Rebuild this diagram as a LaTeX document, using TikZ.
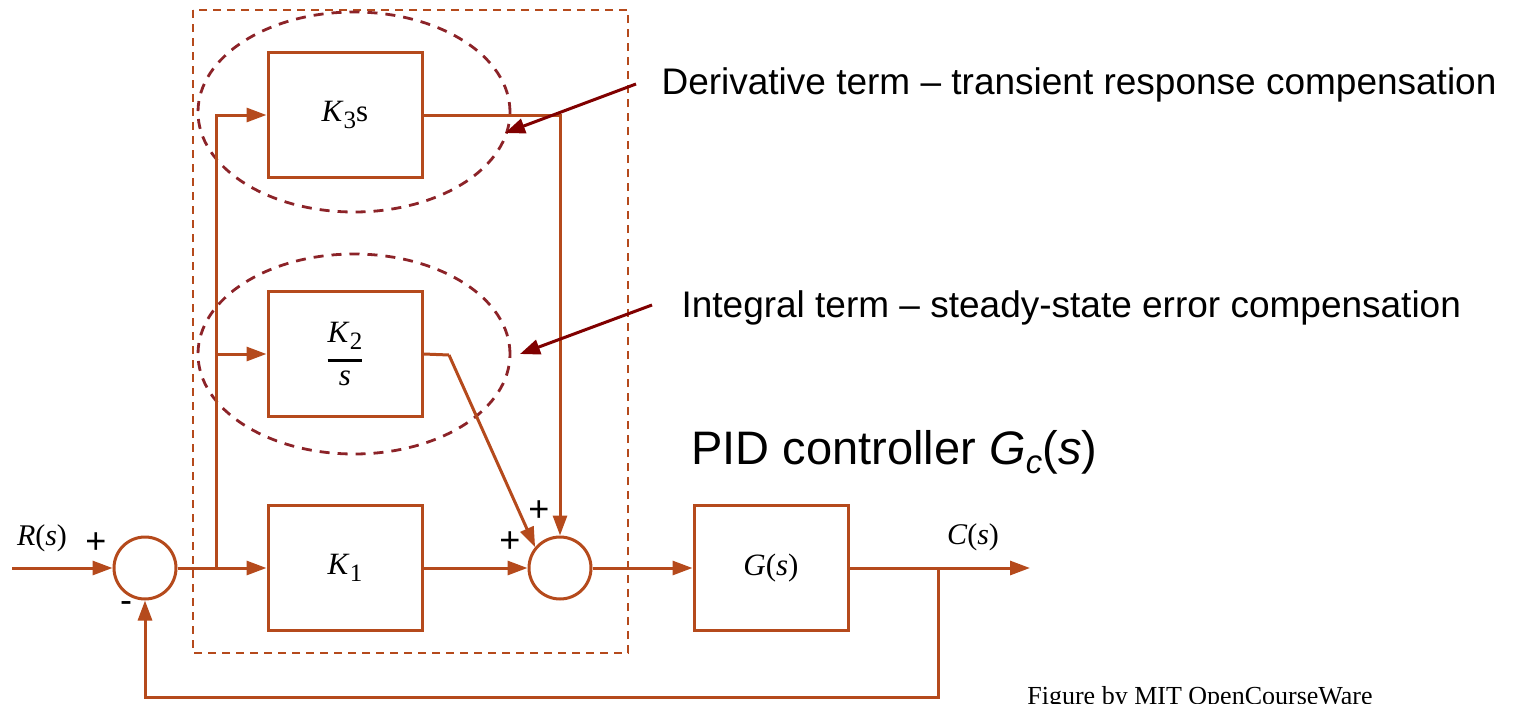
\documentclass[tikz,border=0pt]{standalone}
\usepackage{amsmath}
\usepackage{fontspec}
\setmainfont{Liberation Serif}
\setsansfont{Liberation Sans}
\usetikzlibrary{positioning}
\usetikzlibrary{arrows.meta}
\definecolor{rust}{RGB}{181,74,28}
\definecolor{maroon}{RGB}{140,35,40}
\definecolor{darkred}{RGB}{128,0,0}
\newcommand\lowsub[1]{\raisebox{-0.22em}{\fontsize{25}{28}\selectfont #1}}
\tikzset{blk/.style = {draw=rust, line width=3pt, minimum width=154pt,
                       minimum height=125pt, inner sep=0,
                       font=\fontsize{31}{36}\selectfont}}
\tikzset{sumnode/.style = {draw=rust, line width=3pt, circle,
                           minimum size=62pt, inner sep=0}}
\tikzset{wire/.style = {draw=rust, line width=3pt}}
\tikzset{flow/.style = {wire, -{Triangle[length=20pt,width=14pt]}}}
\tikzset{zone/.style = {draw=maroon, line width=2.8pt, dash pattern=on 10pt off 8pt}}
\tikzset{note/.style = {draw=darkred, line width=3pt, -{Triangle[length=20pt,width=15pt]}}}
\tikzset{sgn/.style = {font=\sffamily\fontsize{36}{40}\selectfont}}
\tikzset{sig/.style = {font=\fontsize{30}{34}\selectfont}}

\begin{document}
\begin{tikzpicture}[x=1pt, y=-1pt]
    \useasboundingbox (0,0) rectangle (1516,704);

    % PID boundary and the two term regions
    \draw[rust, line width=2.8pt, dash pattern=on 8pt off 6pt] (193,10) rectangle (628,653);
    \draw[zone] (354,112) ellipse [x radius=156pt, y radius=100pt];
    \draw[zone] (354,354) ellipse [x radius=156pt, y radius=100pt];

    % blocks
    \node[blk] (k3blk) at (345,115) {\textit{K}\lowsub{3}s};
    \node[blk] (k2blk) at (345,354)
        {$\genfrac{}{}{3pt}{0}{\mbox{\textit{K}\lowsub{2}}}{\mbox{\textit{s}}}$};
    \node[blk] (k1blk) at (345,568) {\textit{K}\lowsub{1}};
    \node[blk] (gblk) at (771,568) {\textit{G}(\textit{s})};
    \node[sumnode] (sumin) at (145,568) {};
    \node[sumnode] (sumpid) at (560,568) {};

    \coordinate (rin) at (12,568);
    \coordinate (tap) at (216,568);
    \coordinate (bend) at (449,355);
    \coordinate (yout) at (1030,568);
    \coordinate (fb) at (938,568);
    \coordinate (fbl) at (938,697);

    % signal paths
    \draw[flow] (rin) -- (sumin);
    \draw[wire] (sumin) -- (tap);
    \draw[flow] (tap) -- (k1blk);
    \draw[flow] (tap) |- (k3blk.west);
    \draw[flow] (tap) |- (k2blk.west);
    \draw[flow] (k3blk.east) -| (sumpid.north);
    \draw[wire] (k2blk.east) -- (bend);
    \draw[flow] (bend) -- (sumpid.140);
    \draw[flow] (k1blk) -- (sumpid);
    \draw[flow] (sumpid) -- (gblk);
    \draw[flow] (gblk) -- (yout);
    \draw[flow] (fb) -- (fbl) -| (sumin.south);

    % signal labels
    \node[sig] (rlbl) at (42,538) {\textit{R}(\textit{s})};
    \node[sig] (clbl) at (973,537) {\textit{C}(\textit{s})};
    \node[sgn] (pin) at (96,543) {+};
    \node[sgn] (min) at (126,607) {-};
    \node[sgn] (ptop) at (539,511) {+};
    \node[sgn] (pleft) at (510,542) {+};

    % annotations
    \node[anchor=base west, font=\sffamily\fontsize{37}{44}\selectfont] (dtxt) at (658,94)
        {Derivative term – transient response compensation};
    \node[anchor=base west, font=\sffamily\fontsize{37}{44}\selectfont] (itxt) at (678,317)
        {Integral term – steady-state error compensation};
    \node[anchor=base west, font=\sffamily\fontsize{47}{54}\selectfont] (pidtxt) at (688,464)
        {PID controller \textit{G}\textsubscript{\textit{c}}(\textit{s})};
    \node[anchor=base, font=\fontsize{26}{30}\selectfont] (credit) at (1200,704)
        {Figure by MIT OpenCourseWare};

    \coordinate (dtail) at (636,84);
    \coordinate (dhead) at (505,133);
    \coordinate (itail) at (652,305);
    \coordinate (ihead) at (520,354);
    \draw[note] (dtail) -- (dhead);
    \draw[note] (itail) -- (ihead);
\end{tikzpicture}
\end{document}
